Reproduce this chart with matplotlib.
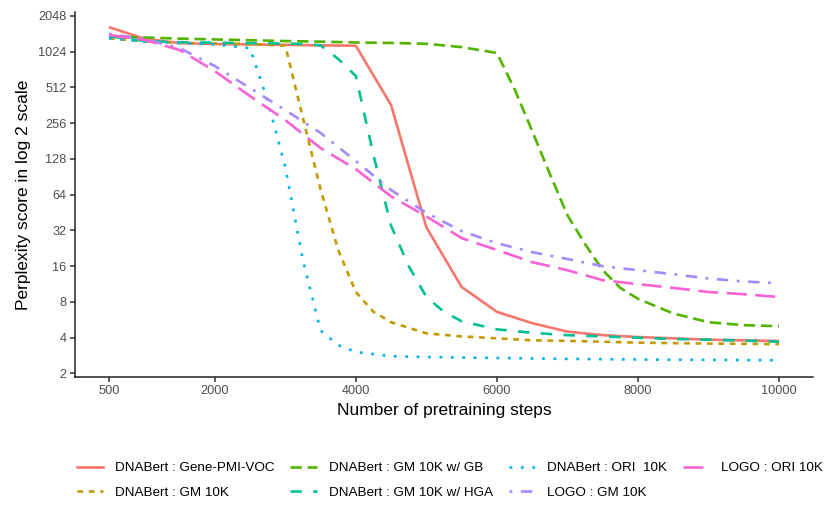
import matplotlib
matplotlib.use("Agg")
import matplotlib.pyplot as plt
from matplotlib.ticker import FixedLocator, FixedFormatter, NullLocator
from matplotlib.lines import Line2D

plt.rcParams['font.family'] = ['Liberation Sans', 'DejaVu Sans']

# ---------------- data ----------------
series_names = [
    "DNABert : Gene-PMI-VOC",
    "DNABert : GM 10K",
    "DNABert : GM 10K w/ GB",
    "DNABert : GM 10K w/ HGA",
    "DNABert : ORI  10K",
    "LOGO : GM 10K",
    "LOGO : ORI 10K",
]

steps_gene = [500, 1000, 1500, 2000, 2500, 3000, 3500, 4000, 4500, 5000,
              5500, 6000, 6500, 7000, 7500, 8000, 8500, 9000, 9500, 10000]
ppl_gene = [1650, 1320, 1210, 1190, 1180, 1170, 1160, 1150, 364, 34,
            10.7, 6.6, 5.3, 4.5, 4.2, 4.05, 3.95, 3.85, 3.8, 3.75]

steps_gm = [500, 1000, 1500, 2000, 2500, 3000, 3250, 3500, 3750, 4000, 4250,
            4500, 5000, 5500, 6000, 6500, 7000, 7500, 8000, 8500, 9000, 9500, 10000]
ppl_gm = [1330, 1250, 1220, 1200, 1190, 1150, 283, 71, 21.9, 9.7, 6.6,
          5.4, 4.35, 4.1, 3.95, 3.8, 3.76, 3.7, 3.63, 3.6, 3.57, 3.55, 3.53]

steps_gb = [500, 1000, 1500, 2000, 2500, 3000, 3500, 4000, 4500, 5000, 5500,
            6000, 6250, 6500, 6750, 7000, 7250, 7500, 7750, 8000, 8500, 9000, 9500, 10000]
ppl_gb = [1370, 1350, 1320, 1300, 1280, 1260, 1245, 1225, 1215, 1195, 1120,
          1000, 497, 220, 96, 43, 24.6, 14.8, 10.5, 8.5, 6.4, 5.4, 5.1, 5.0]

steps_hga = [500, 1000, 1500, 2000, 2500, 3000, 3250, 3500, 3750, 4000, 4250,
             4500, 4750, 5000, 5250, 5500, 6000, 6500, 7000, 7500, 8000, 8500, 9000, 9500, 10000]
ppl_hga = [1390, 1260, 1230, 1220, 1210, 1200, 1190, 1160, 890, 640, 138,
           35, 16, 8.8, 6.6, 5.5, 4.7, 4.4, 4.2, 4.1, 4.0, 3.9, 3.85, 3.78, 3.7]

steps_ori = [500, 1000, 1500, 2000, 2500, 2750, 3000, 3250, 3500, 3750, 4000,
             4500, 5000, 5500, 6000, 7000, 8000, 9000, 10000]
ppl_ori = [1330, 1250, 1210, 1180, 1100, 394, 109, 18, 4.6, 3.46, 3.03,
           2.79, 2.75, 2.72, 2.7, 2.65, 2.62, 2.6, 2.58]

steps_logo_gm = [500, 1000, 1500, 2000, 2500, 3000, 3500, 4000, 4500, 5000,
                 5500, 6000, 6500, 7000, 7500, 8000, 8500, 9000, 9500, 10000]
ppl_logo_gm = [1445, 1310, 1100, 776, 506, 330, 212, 123, 70, 45,
               31.6, 25, 21, 18.4, 16, 14.8, 13.7, 12.6, 11.9, 11.5]

steps_logo_ori = [500, 1000, 1500, 2000, 2500, 3000, 3500, 4000, 4500, 5000,
                  5500, 6000, 6500, 7000, 7500, 8000, 8500, 9000, 9500, 10000]
ppl_logo_ori = [1415, 1290, 1060, 704, 433, 272, 158, 105, 62, 42,
                27.6, 21.9, 17.3, 14.8, 12.2, 11.3, 10.5, 9.7, 9.3, 8.8]

x_ticks = [500, 2000, 4000, 6000, 8000, 10000]
y_ticks = [2, 4, 8, 16, 32, 64, 128, 256, 512, 1024, 2048]

# ---------------- style ----------------
colors = ['#F8766D', '#C49A00', '#53B400', '#00C094', '#00B6EB', '#A58AFF', '#FB61D7']
r_patterns = [None, (2, 2), (4, 2), (4, 4), (1, 3), (1, 3, 4, 3), (7, 3)]
LW = 1.9
K = 1.08


def ls_of(p):
    if p is None:
        return '-'
    return (0, tuple(v * K for v in p))


xs = [steps_gene, steps_gm, steps_gb, steps_hga, steps_ori, steps_logo_gm, steps_logo_ori]
ys = [ppl_gene, ppl_gm, ppl_gb, ppl_hga, ppl_ori, ppl_logo_gm, ppl_logo_ori]

W, H = 827, 514
fig = plt.figure(figsize=(W / 100, H / 100), dpi=100)
ax = fig.add_axes([75 / W, 1 - 377 / H, (813 - 75) / W, (377 - 12) / H])

for x, y, c, p, name in zip(xs, ys, colors, r_patterns, series_names):
    ax.plot(x, y, color=c, lw=LW, linestyle=ls_of(p), label=name,
            solid_capstyle='butt', dash_capstyle='butt')

ax.set_yscale('log', base=2)
ax.set_xlim(18, 10482)
ax.set_ylim(1.866, 2213)

ax.xaxis.set_major_locator(FixedLocator(x_ticks))
ax.xaxis.set_major_formatter(FixedFormatter([str(v) for v in x_ticks]))
ax.yaxis.set_major_locator(FixedLocator(y_ticks))
ax.yaxis.set_major_formatter(FixedFormatter([str(v) for v in y_ticks]))
ax.yaxis.set_minor_locator(NullLocator())
ax.xaxis.set_minor_locator(NullLocator())

for s in ['top', 'right']:
    ax.spines[s].set_visible(False)
for s in ['left', 'bottom']:
    ax.spines[s].set_color('#222222')
    ax.spines[s].set_linewidth(1.1)

ax.tick_params(axis='both', which='major', length=3.6, width=1.1, color='#333333',
               labelcolor='#4D4D4D', labelsize=9.2)
ax.tick_params(axis='x', pad=2.5)
ax.tick_params(axis='y', pad=2.5)

ax.set_xlabel('Number of pretraining steps', fontsize=12.5, color='black', labelpad=4)
ax.set_ylabel('Perplexity score in log 2 scale', fontsize=12.5, color='black', labelpad=5)

leg_handles = [Line2D([0], [0], color=c, lw=LW, linestyle=ls_of(p))
               for c, p in zip(colors, r_patterns)]
fig.legend(leg_handles, series_names, loc='upper left',
           bbox_to_anchor=(76.7 / W, 1 - 462 / H), ncol=4, frameon=False,
           fontsize=9.7, handlelength=1.97, handletextpad=0.9, columnspacing=1.15,
           borderpad=0, borderaxespad=0, labelspacing=0.88)

fig.savefig('out.png', dpi=100, facecolor='white')
